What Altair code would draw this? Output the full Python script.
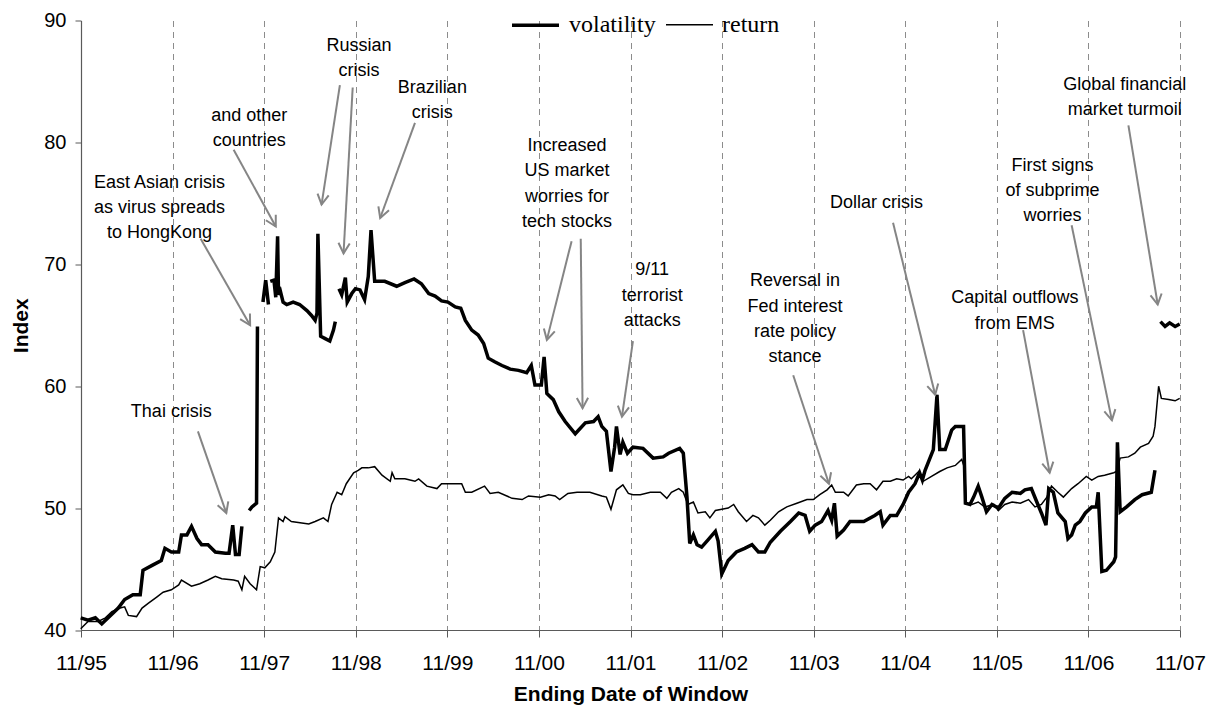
import math
import altair as alt
import pandas as pd

# ---------------- data (decimal years, index values) ----------------
vol1_years = [1995.83, 1995.91, 1995.99, 1996.06, 1996.13, 1996.24, 1996.31, 1996.40, 1996.48, 1996.51,
              1996.61, 1996.71, 1996.75, 1996.82, 1996.90, 1996.93, 1996.99, 1997.04, 1997.10, 1997.15,
              1997.22, 1997.30, 1997.41, 1997.45, 1997.49, 1997.52, 1997.56, 1997.59]
vol1_values = [41.0, 40.8, 41.0, 40.5, 41.0, 41.8, 42.5, 42.9, 42.9, 44.9,
               45.3, 45.7, 46.7, 46.4, 46.4, 47.8, 47.8, 48.5, 47.5, 47.0,
               47.0, 46.4, 46.3, 46.3, 48.6, 46.2, 46.2, 48.5]

vol2_years = [1997.67, 1997.70, 1997.75, 1997.76]
vol2_values = [49.8, 50.1, 50.4, 64.9]

vol3_years = [1997.82, 1997.85, 1997.88]
vol3_values = [66.9, 68.7, 66.7]

vol4_years = [1997.90, 1997.94, 1997.96, 1997.98, 1997.99, 1998.01, 1998.04, 1998.08, 1998.15, 1998.22,
              1998.30, 1998.35, 1998.39, 1998.41, 1998.42, 1998.45, 1998.50, 1998.55, 1998.59, 1998.61]
vol4_values = [68.6, 68.7, 67.3, 72.3, 67.5, 67.8, 66.9, 66.7, 66.9, 66.7,
               66.2, 65.8, 65.4, 66.0, 72.5, 64.1, 63.9, 63.7, 64.6, 65.3]

vol5_years = [1998.65, 1998.68, 1998.72, 1998.74, 1998.79, 1998.83, 1998.88, 1998.93, 1998.97, 1999.00,
              1999.04, 1999.15, 1999.28, 1999.37, 1999.47, 1999.55, 1999.63, 1999.70, 1999.77, 1999.84,
              1999.92, 1999.98, 2000.03, 2000.10, 2000.17, 2000.23, 2000.28, 2000.35, 2000.43, 2000.52,
              2000.61, 2000.70, 2000.75, 2000.79, 2000.86, 2000.89, 2000.92, 2000.99, 2001.05, 2001.12,
              2001.23, 2001.34, 2001.43, 2001.48, 2001.52, 2001.57, 2001.62, 2001.66, 2001.68, 2001.72,
              2001.75, 2001.80, 2001.86, 2001.97, 2002.08, 2002.19, 2002.25, 2002.37, 2002.41, 2002.45,
              2002.48, 2002.52, 2002.56, 2002.61, 2002.68, 2002.76, 2002.79, 2002.83, 2002.90, 2002.99,
              2003.08, 2003.16, 2003.23, 2003.30, 2003.36, 2003.47, 2003.58, 2003.67, 2003.74, 2003.79,
              2003.85, 2003.92, 2003.99, 2004.03, 2004.06, 2004.09, 2004.16, 2004.23, 2004.38, 2004.50,
              2004.56, 2004.59, 2004.67, 2004.74, 2004.81, 2004.87, 2004.94, 2004.99, 2005.02, 2005.05,
              2005.14, 2005.18, 2005.21, 2005.27, 2005.34, 2005.38, 2005.47, 2005.49, 2005.54, 2005.58,
              2005.63, 2005.67, 2005.72, 2005.78, 2005.85, 2005.92, 2006.00, 2006.09, 2006.14, 2006.21,
              2006.27, 2006.32, 2006.37, 2006.40, 2006.45, 2006.50, 2006.58, 2006.61, 2006.65, 2006.69,
              2006.74, 2006.80, 2006.87, 2006.92, 2006.94, 2006.98, 2007.03, 2007.11, 2007.13, 2007.15,
              2007.18, 2007.25, 2007.34, 2007.42, 2007.52, 2007.56]
vol5_values = [68.0, 67.5, 68.9, 66.9, 67.6, 68.0, 67.9, 67.1, 69.0, 72.8,
               68.6, 68.6, 68.2, 68.5, 68.8, 68.4, 67.6, 67.4, 67.0, 66.9,
               66.5, 66.4, 65.4, 64.6, 64.2, 63.5, 62.3, 62.0, 61.7, 61.4,
               61.3, 61.1, 61.7, 60.1, 60.1, 62.4, 59.4, 58.9, 57.9, 57.1,
               56.1, 57.0, 57.1, 57.5, 56.7, 56.3, 53.0, 55.0, 56.7, 54.4,
               55.4, 54.5, 55.0, 54.9, 54.1, 54.2, 54.5, 54.9, 54.5, 50.9,
               47.1, 47.8, 47.0, 46.8, 47.4, 48.1, 47.3, 44.6, 45.7, 46.4,
               46.7, 47.0, 46.4, 46.4, 47.2, 48.1, 48.9, 49.6, 49.4, 48.1,
               48.6, 48.9, 49.8, 49.0, 50.4, 47.7, 48.2, 48.9, 48.9, 49.4,
               49.7, 48.6, 49.4, 49.4, 50.3, 51.3, 52.0, 52.9, 52.3, 53.1,
               54.8, 59.3, 54.8, 54.8, 56.4, 56.7, 56.7, 50.4, 50.3, 50.9,
               51.8, 50.9, 49.7, 50.3, 50.0, 50.8, 51.3, 51.2, 51.5, 51.6,
               50.5, 49.6, 48.6, 51.6, 51.3, 49.6, 48.9, 47.5, 47.8, 48.6,
               48.9, 49.6, 50.1, 50.1, 51.3, 44.8, 44.9, 45.6, 46.0, 55.4,
               49.7, 50.1, 50.7, 51.1, 51.3, 53.1]

vol6_years = [2007.62, 2007.67, 2007.72, 2007.78, 2007.83]
vol6_values = [65.3, 64.9, 65.2, 64.9, 65.1]

ret_years = [1995.83, 1995.91, 1996.02, 1996.10, 1996.17, 1996.26, 1996.31, 1996.35, 1996.44, 1996.50,
             1996.57, 1996.66, 1996.73, 1996.82, 1996.90, 1996.93, 1997.04, 1997.13, 1997.22, 1997.30,
             1997.37, 1997.50, 1997.55, 1997.59, 1997.62, 1997.68, 1997.75, 1997.79, 1997.84, 1997.90,
             1997.95, 1997.99, 1998.04, 1998.06, 1998.13, 1998.32, 1998.39, 1998.48, 1998.53, 1998.57,
             1998.63, 1998.68, 1998.73, 1998.81, 1998.86, 1998.90, 1998.97, 1999.04, 1999.12, 1999.21,
             1999.23, 1999.26, 1999.37, 1999.48, 1999.52, 1999.61, 1999.72, 1999.77, 1999.99, 2000.03,
             2000.10, 2000.24, 2000.30, 2000.39, 2000.54, 2000.65, 2000.72, 2000.85, 2000.94, 2001.01,
             2001.06, 2001.15, 2001.25, 2001.39, 2001.52, 2001.57, 2001.62, 2001.68, 2001.75, 2001.81,
             2001.86, 2001.94, 2002.05, 2002.16, 2002.23, 2002.28, 2002.36, 2002.41, 2002.46, 2002.52,
             2002.57, 2002.65, 2002.70, 2002.76, 2002.83, 2002.90, 2002.96, 2003.01, 2003.10, 2003.17,
             2003.23, 2003.30, 2003.36, 2003.45, 2003.54, 2003.65, 2003.76, 2003.83, 2003.90, 2003.98,
             2004.03, 2004.07, 2004.16, 2004.21, 2004.30, 2004.38, 2004.45, 2004.52, 2004.59, 2004.67,
             2004.74, 2004.81, 2004.87, 2004.90, 2004.98, 2005.03, 2005.12, 2005.21, 2005.29, 2005.38,
             2005.45, 2005.48, 2005.50, 2005.56, 2005.63, 2005.70, 2005.80, 2005.85, 2005.92, 2006.00,
             2006.09, 2006.18, 2006.25, 2006.32, 2006.38, 2006.43, 2006.50, 2006.56, 2006.65, 2006.72,
             2006.81, 2006.87, 2006.94, 2007.01, 2007.11, 2007.14, 2007.18, 2007.27, 2007.34, 2007.40,
             2007.49, 2007.54, 2007.56, 2007.60, 2007.63, 2007.71, 2007.78, 2007.83]
ret_values = [40.1, 40.7, 40.7, 41.0, 41.5, 41.8, 41.9, 41.2, 41.1, 41.8,
              42.2, 42.7, 43.1, 43.3, 43.7, 44.1, 43.6, 43.8, 44.1, 44.4,
              44.2, 44.1, 44.0, 43.3, 44.4, 43.8, 43.3, 45.2, 45.1, 45.6,
              46.4, 49.2, 48.9, 49.3, 48.9, 48.7, 48.9, 49.2, 48.9, 50.3,
              51.3, 51.1, 52.0, 52.9, 53.1, 53.3, 53.3, 53.4, 52.7, 52.2,
              52.9, 52.4, 52.4, 52.2, 52.4, 51.8, 51.6, 52.0, 52.0, 51.3,
              51.3, 51.8, 51.2, 51.3, 50.8, 50.7, 51.0, 50.9, 51.1, 51.0,
              50.7, 51.2, 51.3, 51.3, 51.0, 50.9, 49.9, 51.5, 51.9, 51.2,
              51.1, 51.1, 51.3, 51.3, 50.8, 51.3, 51.6, 51.3, 50.3, 50.5,
              49.6, 49.7, 49.2, 49.8, 49.9, 50.0, 50.3, 49.7, 48.9, 49.4,
              49.2, 48.6, 49.0, 49.7, 50.1, 50.4, 50.7, 50.7, 51.1, 51.5,
              51.9, 51.3, 51.3, 51.0, 51.9, 52.0, 52.0, 51.5, 52.2, 52.2,
              52.4, 52.3, 52.6, 52.4, 53.0, 52.2, 52.6, 53.0, 53.3, 53.5,
              54.0, 53.3, 50.4, 50.3, 50.5, 50.1, 50.3, 49.8, 50.3, 50.5,
              50.4, 50.7, 50.1, 50.3, 50.9, 51.8, 51.3, 50.9, 51.6, 52.0,
              52.6, 52.3, 52.6, 52.7, 52.9, 53.0, 54.1, 54.2, 54.5, 55.0,
              55.3, 55.9, 56.7, 60.0, 59.0, 58.9, 58.8, 59.0]

x_ticks = [1995 + 10 / 12 + i for i in range(13)]
x_labels = ["11/95", "11/96", "11/97", "11/98", "11/99", "11/00", "11/01",
            "11/02", "11/03", "11/04", "11/05", "11/06", "11/07"]
y_ticks = [40, 50, 60, 70, 80, 90]

# annotation texts: (lines, x-centre, y of first line)
ann_texts = [
    (["Thai crisis"], 1996.82, 57.9),
    (["East Asian crisis", "as virus spreads", "to HongKong"], 1996.69, 76.7),
    (["and other", "countries"], 1997.67, 82.2),
    (["Russian", "crisis"], 1998.87, 87.9),
    (["Brazilian", "crisis"], 1999.67, 84.5),
    (["Increased", "US market", "worries for", "tech stocks"], 2001.14, 79.7),
    (["9/11", "terrorist", "attacks"], 2002.07, 69.5),
    (["Reversal in", "Fed interest", "rate policy", "stance"], 2003.63, 68.6),
    (["Dollar crisis"], 2004.52, 75.0),
    (["Capital outflows", "from EMS"], 2006.03, 67.2),
    (["First signs", "of subprime", "worries"], 2006.44, 78.1),
    (["Global financial", "market turmoil"], 2007.23, 84.7),
]
# arrows: (start x, start y, tip x, tip y)
ann_arrows = [
    (1997.11, 56.3, 1997.42, 49.6),
    (1997.14, 72.1, 1997.68, 65.0),
    (1997.50, 79.4, 1997.96, 73.1),
    (1998.66, 84.7, 1998.46, 74.9),
    (1998.80, 84.5, 1998.70, 70.9),
    (1999.48, 81.6, 1999.10, 73.8),
    (2001.19, 71.9, 2000.92, 63.8),
    (2001.29, 72.1, 2001.31, 58.2),
    (2001.86, 63.7, 2001.74, 57.5),
    (2003.61, 60.9, 2004.00, 52.0),
    (2004.70, 73.4, 2005.16, 59.3),
    (2006.12, 64.6, 2006.41, 52.9),
    (2006.65, 73.2, 2007.09, 57.2),
    (2007.27, 81.4, 2007.59, 66.7),
]

# ---------------- build tables ----------------
W, H = 1099, 609.5
LINE_STEP = 2.08

rows = []
vol_segs = [(vol1_years, vol1_values), (vol2_years, vol2_values), (vol3_years, vol3_values),
            (vol4_years, vol4_values), (vol5_years, vol5_values), (vol6_years, vol6_values)]
for i, (ys, vs) in enumerate(vol_segs):
    for yr, v in zip(ys, vs):
        rows.append({"year": yr, "value": v, "segment": f"v{i}", "series": "volatility"})
for yr, v in zip(ret_years, ret_values):
    rows.append({"year": yr, "value": v, "segment": "r", "series": "return"})
df = pd.DataFrame(rows)

text_rows = []
for lines, cx, y0 in ann_texts:
    for i, t in enumerate(lines):
        text_rows.append({"year": cx, "value": y0 - i * LINE_STEP, "text": t})
text_df = pd.DataFrame(text_rows)

arrow_rows = []
for sx, sy, tx, ty in ann_arrows:
    dx = (tx - sx) * W / 12.0
    dy = -(ty - sy) * H / 50.0
    ang = math.degrees(math.atan2(dx, -dy)) % 360
    arrow_rows.append({"year": sx, "value": sy, "year2": tx, "value2": ty, "angle": ang})
arrow_df = pd.DataFrame(arrow_rows)

# ---------------- scales / axes ----------------
x_scale = alt.Scale(domain=[x_ticks[0], x_ticks[-1]], nice=False, zero=False)
y_scale = alt.Scale(domain=[40, 90], nice=False, zero=False)
label_expr = "[" + ",".join(f"'{l}'" for l in x_labels) + "][round(datum.value - " + repr(x_ticks[0]) + ")]"

x_axis = alt.Axis(values=x_ticks, labelExpr=label_expr, title="Ending Date of Window",
                  grid=True, gridDash=[6, 5], gridColor="#8c8c8c", gridWidth=1,
                  tickSize=7, labelPadding=15, labelFontSize=21, titlePadding=10,
                  labelFlush=False)
y_axis = alt.Axis(values=y_ticks, format="d", title="Index", grid=False,
                  tickSize=6, labelPadding=9, labelFontSize=20, titlePadding=12)

X = alt.X("year:Q", scale=x_scale, axis=x_axis)
Y = alt.Y("value:Q", scale=y_scale, axis=y_axis)

lines = alt.Chart(df).mark_line(color="black").encode(
    x=X, y=Y,
    detail="segment:N",
    strokeWidth=alt.StrokeWidth(
        "series:N",
        scale=alt.Scale(domain=["volatility", "return"], range=[3.5, 1.5]),
        legend=alt.Legend(orient="none", legendX=429, legendY=-21, direction="horizontal",
                          title=None, labelFont="Liberation Serif", labelFontSize=24,
                          labelColor="black", symbolType="stroke", symbolSize=2209,
                          symbolStrokeColor="black", labelOffset=8, columnPadding=7,
                          padding=0),
    ),
)

rules = alt.Chart(arrow_df).mark_rule(color="#858585", strokeWidth=2).encode(
    x=X, y=Y, x2="year2:Q", y2="value2:Q")

heads = alt.Chart(arrow_df).mark_point(
    shape="M-0.55,1L0,0L0.55,1", filled=False, color="#858585",
    strokeWidth=2, size=420, opacity=1).encode(
    x=alt.X("year2:Q", scale=x_scale, axis=x_axis),
    y=alt.Y("value2:Q", scale=y_scale, axis=y_axis),
    angle=alt.Angle("angle:Q", scale=None))

texts = alt.Chart(text_df).mark_text(
    font="Liberation Sans", fontSize=18, color="black", align="center", baseline="middle").encode(
    x=X, y=Y, text="text:N")

chart = alt.layer(lines, rules, heads, texts).properties(
    width=W, height=H,
    padding={"left": 73, "top": 12.5, "right": 30, "bottom": 75},
    autosize=alt.AutoSizeParams(type="none"),
).configure_view(stroke=None).configure_axis(
    labelFont="Liberation Sans", labelColor="black",
    titleFont="Liberation Sans", titleFontSize=21, titleFontWeight="bold", titleColor="black",
    domainColor="#5a5a5a", tickColor="#5a5a5a", domainWidth=1.2,
)

chart.save("out.html", embed_options={"renderer": "svg", "actions": False})
